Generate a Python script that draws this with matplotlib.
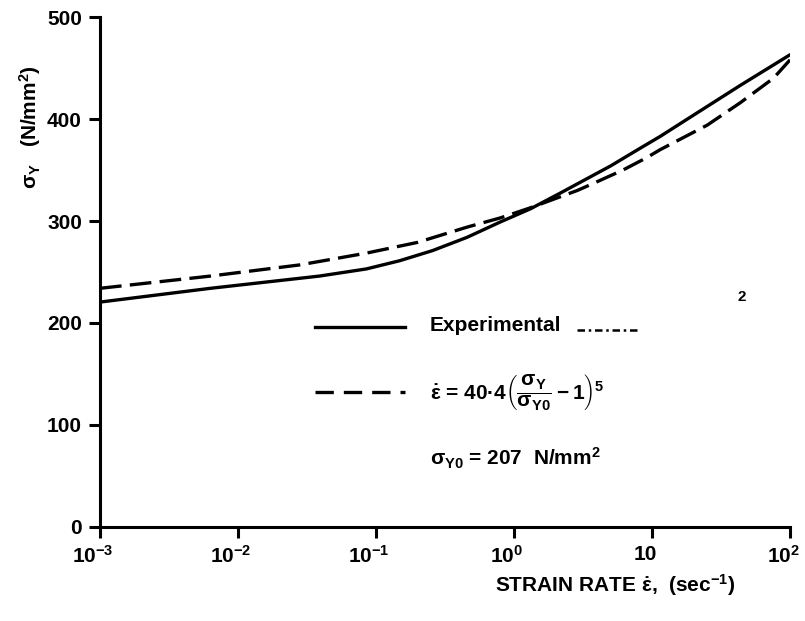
import numpy as np
import matplotlib
matplotlib.use("Agg")
import matplotlib.pyplot as plt
import matplotlib.transforms as mtransforms
from matplotlib.lines import Line2D
from matplotlib.ticker import NullLocator

plt.rcParams["font.family"] = ["Liberation Sans", "DejaVu Sans"]
plt.rcParams["font.weight"] = "bold"
plt.rcParams["mathtext.fontset"] = "custom"
plt.rcParams["mathtext.rm"] = "Liberation Sans:bold"
plt.rcParams["mathtext.it"] = "Liberation Sans:bold"
plt.rcParams["mathtext.bf"] = "Liberation Sans:bold"
plt.rcParams["mathtext.sf"] = "Liberation Sans:bold"
plt.rcParams["mathtext.default"] = "regular"

# strain rate (log10 of sec^-1) and yield stress (N/mm^2)
exp_logx = [-3.0, -2.2, -1.41, -1.07, -0.83, -0.59, -0.34, -0.10, 0.12, 0.33,
            0.70, 0.91, 1.06, 1.28, 1.64, 2.0]
exp_sy = [220.5, 234, 246, 253, 261, 271, 284, 299, 312, 327,
          354, 371, 383, 402, 433, 463]

fit_logx = [-3.0, -2.2, -1.55, -1.07, -0.70, -0.34, -0.10, 0.12, 0.46, 0.61,
            0.79, 0.96, 1.06, 1.40, 1.64, 1.88, 2.0]
fit_sy = [234, 246, 257, 268.5, 279, 294, 303, 313, 330, 339,
          350, 362, 370, 394, 416, 440, 458]

xticks = [1e-3, 1e-2, 1e-1, 1e0, 1e1, 1e2]
xticklabels = [r"$10^{-3}$", r"$10^{-2}$", r"$10^{-1}$", r"$10^{0}$", "10", r"$10^{2}$"]
yticks = [0, 100, 200, 300, 400, 500]

fig = plt.figure(figsize=(8.05, 6.21), dpi=100)
ax = fig.add_axes([0.1242, 0.1514, 0.8572, 0.8212])

ax.plot(10 ** np.array(exp_logx), exp_sy, color="black", lw=2.4, solid_capstyle="round",
        solid_joinstyle="round")
ax.plot(10 ** np.array(fit_logx), fit_sy, color="black", lw=2.4, dashes=(6.5, 2.5))

ax.set_xscale("log")
ax.set_xlim(1e-3, 1e2)
ax.set_ylim(0, 500)
ax.set_xticks(xticks)
ax.set_xticklabels(xticklabels)
ax.xaxis.set_minor_locator(NullLocator())
ax.set_yticks(yticks)
for s in ["top", "right"]:
    ax.spines[s].set_visible(False)
for s in ["left", "bottom"]:
    ax.spines[s].set_linewidth(2.2)
ax.tick_params(axis="both", direction="out", length=8, width=2.2, labelsize=15, pad=5)

# tick labels sit a little left of their ticks in the original
shift = mtransforms.ScaledTranslation(-7 / 100, 0, fig.dpi_scale_trans)
for lab in ax.get_xticklabels():
    lab.set_transform(lab.get_transform() + shift)

fig.text(30 / 805, 1 - 127 / 621, r"$\sigma_Y$   (N/mm$^2$)", rotation=90,
         ha="center", va="center", fontsize=15)
fig.text(615 / 805, 1 - 585 / 621, r"STRAIN RATE $\dot{\varepsilon}$,  (sec$^{-1}$)",
         ha="center", va="center", fontsize=15)

# hand drawn legend block
ax.add_line(Line2D([0.3116, 0.442], [0.392, 0.392], transform=ax.transAxes,
                   color="black", lw=2.4))
ax.add_line(Line2D([0.3116, 0.442], [0.2647, 0.2647], transform=ax.transAxes,
                   color="black", lw=2.4, dashes=(5.5, 3)))
ax.add_line(Line2D([0.691, 0.778], [0.386, 0.386], transform=ax.transAxes,
                   color="black", lw=1.8, dashes=(3, 1.5, 1, 1.5)))
ax.text(0.478, 0.396, "Experimental", transform=ax.transAxes, ha="left", va="center", fontsize=15)
ax.text(0.478, 0.265, "$\\dot{\\varepsilon}$ = 40\u00b74$\\left(\\dfrac{\\sigma_Y}{\\sigma_{Y0}} - 1\\right)^5$",
        transform=ax.transAxes, ha="left", va="center", fontsize=15)
ax.text(0.478, 0.135, r"$\sigma_{Y0}$ = 207  N/mm$^2$", transform=ax.transAxes,
        ha="left", va="center", fontsize=15)
ax.text(0.93, 0.45, "2", transform=ax.transAxes, ha="center", va="center", fontsize=11)

fig.savefig("out.png", dpi=100)
